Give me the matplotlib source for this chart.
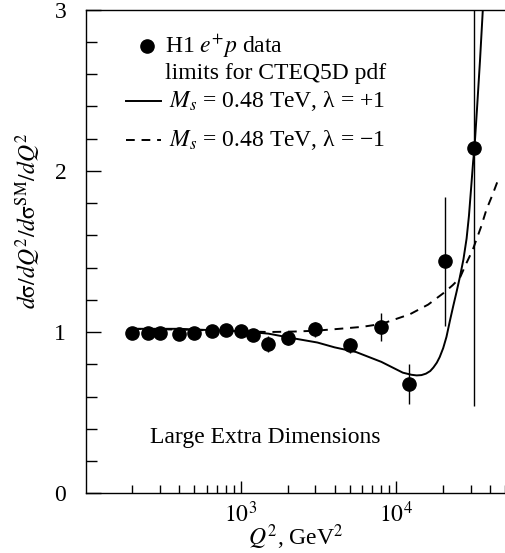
import numpy as np
import matplotlib
matplotlib.use("Agg")
import matplotlib.pyplot as plt
from matplotlib.ticker import FixedLocator, LogLocator, NullFormatter, MultipleLocator

plt.rcParams['font.family'] = ['Liberation Serif', 'DejaVu Serif']
plt.rcParams['mathtext.fontset'] = 'stix'

# ---- data ----
q2_data = [200, 250, 300, 400, 500, 650, 800, 1000, 1200, 1500, 2000, 3000,
           5000, 8000, 12000, 20700, 31800]
ratio_data = [0.995, 0.995, 0.995, 0.985, 0.995, 1.005, 1.015, 1.008, 0.984,
              0.928, 0.963, 1.017, 0.918, 1.031, 0.68, 1.44, 2.14]
ratio_err = [0.01, 0.01, 0.01, 0.01, 0.01, 0.01, 0.01, 0.01, 0.015,
             0.05, 0.045, 0.046, 0.046, 0.085, 0.124, 0.40, 1.6]

q2_plus = [200, 400, 700, 1000, 1500, 2200, 3100, 4000, 5500, 8000, 11000,
           12500, 13500, 14500, 15500, 16500, 17300, 18200, 19000, 20000,
           21000, 22100, 23200, 24400, 25600, 27000, 28300, 29300, 30300,
           31200, 31800, 33000, 34500, 36000, 37000]
ratio_plus = [1.02, 1.02, 1.01, 1.005, 0.99, 0.96, 0.935, 0.905, 0.876,
              0.815, 0.748, 0.735, 0.731, 0.733, 0.742, 0.758, 0.78, 0.81,
              0.845, 0.90, 0.97, 1.07, 1.16, 1.25, 1.34, 1.45, 1.58, 1.72,
              1.90, 2.06, 2.14, 2.38, 2.68, 3.0, 3.2]

q2_minus = [200, 400, 700, 1000, 1500, 2200, 3000, 4300, 6000, 8000, 12200,
            16000, 20000, 23000, 25600, 28000, 31000, 35000, 38000, 41500,
            45000]
ratio_minus = [1.02, 1.015, 1.01, 1.005, 1.0, 1.003, 1.008, 1.02, 1.032,
               1.05, 1.11, 1.17, 1.24, 1.29, 1.335, 1.42, 1.51, 1.65, 1.76,
               1.85, 1.94]

xticks_major = [1e3, 1e4]
xtick_labels = [r'$10^3$', r'$10^4$']
yticks_major = [0, 1, 2, 3]

FS = 17

fig = plt.figure(figsize=(5.05, 5.53), dpi=100)
ax = fig.add_axes([85.7/505, 1 - 493.3/553, 1 - 85.7/505, (493.3 - 9.5)/553])

ax.plot(q2_plus, ratio_plus, '-', color='black', lw=1.4)
ax.plot(q2_minus, ratio_minus, '--', color='black', lw=1.4, dashes=(4.5, 3.5))
ax.errorbar(q2_data, ratio_data, yerr=ratio_err, fmt='o', color='black',
            ms=9.5, elinewidth=1.0, capsize=0, zorder=5)

ax.set_xscale('log')
ax.set_xlim(100, 5e4)
ax.set_ylim(0, 3)

ax.xaxis.set_major_locator(FixedLocator(xticks_major))
ax.set_xticklabels(xtick_labels)
ax.xaxis.set_minor_locator(LogLocator(base=10, subs=np.arange(2, 10)))
ax.xaxis.set_minor_formatter(NullFormatter())
ax.yaxis.set_major_locator(FixedLocator(yticks_major))
ax.yaxis.set_minor_locator(MultipleLocator(0.2))

ax.tick_params(axis='both', which='both', direction='in', labelsize=FS,
               width=1.0, color='black')
ax.tick_params(axis='y', which='major', length=11, pad=14)
ax.tick_params(axis='y', which='minor', length=8)
ax.tick_params(axis='x', which='major', length=9, pad=6)
ax.tick_params(axis='x', which='minor', length=6)
ax.tick_params(top=False, right=False, which='both')

for s in ['left', 'bottom', 'top']:
    ax.spines[s].set_linewidth(1.0)
ax.spines['right'].set_visible(False)

ax.set_xlabel(r'$Q^2$, GeV$^2$', fontsize=FS, labelpad=-3.5)
ax.set_ylabel(r'$d\mathrm{\sigma}/dQ^2/d\mathrm{\sigma}^{\rm SM}/dQ^2$', fontsize=FS)
ax.yaxis.set_label_coords(-0.101, 0.563)

# legend (manual)
T = ax.transAxes
def fx(px):
    return (px - 85.7) / (505 - 85.7)
def fy(py):
    return (493.3 - py) / (493.3 - 9.5)

ax.plot([fx(147)], [fy(46)], 'o', color='black', ms=9.5, transform=T, clip_on=False)
ax.text(fx(165), fy(46), r'H1 $e^{+}p$ data', transform=T, fontsize=FS, va='center')
ax.text(fx(165), fy(73), 'limits for CTEQ5D pdf', transform=T, fontsize=FS, va='center')
ax.plot([fx(126), fx(161)], [fy(101), fy(101)], '-', color='black', lw=1.4, transform=T)
ax.text(fx(169), fy(101), r'$M_s$ = 0.48 TeV, λ = +1', transform=T, fontsize=FS, va='center')
ax.plot([fx(126), fx(161)], [fy(140), fy(140)], '--', color='black', lw=1.4,
        dashes=(4.5, 3.5), transform=T)
ax.text(fx(169), fy(140), r'$M_s$ = 0.48 TeV, λ = −1', transform=T, fontsize=FS, va='center')

ax.text(fx(150), fy(438), 'Large Extra Dimensions', transform=T, fontsize=FS, va='center')

fig.savefig('out.png', dpi=100)
